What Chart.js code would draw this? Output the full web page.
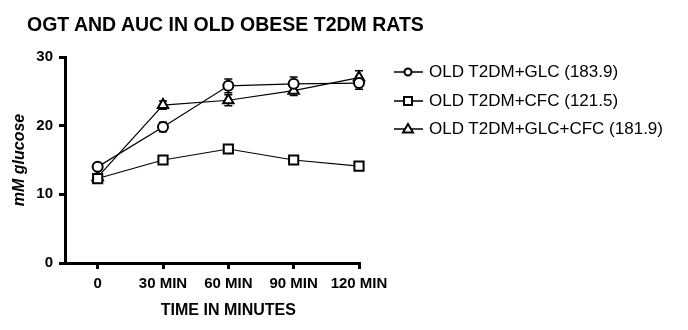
<!DOCTYPE html>
<html>
<head>
<meta charset="utf-8">
<script src="https://cdn.jsdelivr.net/npm/chart.js@4"></script>
<style>
    body { margin: 0; background: #fff; font-family: Arial, "Liberation Sans", sans-serif; }
    #wrap { position: relative; width: 688px; height: 330px; }
    #title { position: absolute; left: 27px; top: 13px; font-size: 19.5px; font-weight: bold; color: #000; white-space: nowrap; }
    #legend { position: absolute; left: 393px; top: 58px; }
    .row { display: flex; align-items: center; height: 28.5px; font-size: 17px; color: #000; white-space: nowrap; }
    .row svg { margin-right: 5px; }
</style>
</head>
<body>
<div id="wrap">
    <canvas id="chart" width="688" height="330"></canvas>
    <div id="title">OGT AND AUC IN OLD OBESE T2DM RATS</div>
    <div id="legend"></div>
</div>
<script>
// --- data ---
const times = [0, 30, 60, 90, 120];
const tickLabels = ['0', '30 MIN', '60 MIN', '90 MIN', '120 MIN'];
const yTicks = [0, 10, 20, 30];

const seriesNames = ['OLD T2DM+GLC (183.9)', 'OLD T2DM+CFC (121.5)', 'OLD T2DM+GLC+CFC (181.9)'];
const glc = [14.0, 19.8, 25.8, 26.1, 26.2];
const glcErr = [0.3, 0.7, 1.0, 1.0, 0.9];
const cfc = [12.3, 15.0, 16.6, 15.0, 14.1];
const cfcErr = [0.2, 0.3, 0.3, 0.3, 0.3];
const glcCfc = [12.5, 23.0, 23.7, 25.1, 27.0];
const glcCfcErr = [0.3, 0.6, 0.8, 0.7, 1.0];

const FONT = 'Arial, "Liberation Sans", sans-serif';

function toPoints(vals) {
    return times.map((t, i) => ({ x: t, y: vals[i] }));
}

function makeSet(label, vals, errs, style, radius) {
    return {
        label: label,
        data: toPoints(vals),
        errors: errs,
        borderColor: '#000',
        borderWidth: 1.2,
        pointStyle: style,
        pointRadius: radius,
        pointBorderWidth: 2,
        pointBackgroundColor: '#fff',
        pointBorderColor: '#000',
        fill: false,
        tension: 0,
        clip: false
    };
}

const datasets = [
    makeSet(seriesNames[0], glc, glcErr, 'circle', 5),
    makeSet(seriesNames[1], cfc, cfcErr, 'rect', 6.5),
    makeSet(seriesNames[2], glcCfc, glcCfcErr, 'triangle', 6)
];

// error bars + axis titles
const extras = {
    id: 'extras',
    beforeDatasetsDraw(chart) {
        const ctx = chart.ctx;
        const xs = chart.scales.x, ys = chart.scales.y;
        ctx.save();
        ctx.strokeStyle = '#000';
        ctx.lineWidth = 1.5;
        chart.data.datasets.forEach(ds => {
            ds.data.forEach((p, i) => {
                const e = ds.errors[i];
                const x = xs.getPixelForValue(p.x);
                const yt = ys.getPixelForValue(p.y + e);
                const yb = ys.getPixelForValue(p.y - e);
                ctx.beginPath();
                ctx.moveTo(x, yt); ctx.lineTo(x, yb);
                ctx.moveTo(x - 4, yt); ctx.lineTo(x + 4, yt);
                ctx.moveTo(x - 4, yb); ctx.lineTo(x + 4, yb);
                ctx.stroke();
            });
        });
        ctx.restore();
    },
    afterDraw(chart) {
        const ctx = chart.ctx;
        const xs = chart.scales.x, ys = chart.scales.y;
        ctx.save();
        ctx.fillStyle = '#000';
        ctx.textAlign = 'center';
        ctx.textBaseline = 'middle';
        ctx.font = 'bold 16px ' + FONT;
        ctx.fillText('TIME IN MINUTES', xs.getPixelForValue(60), 311);
        ctx.translate(20, (ys.top + ys.bottom) / 2);
        ctx.rotate(-Math.PI / 2);
        ctx.font = 'italic bold 16px ' + FONT;
        ctx.fillText('mM glucose', 0, 0);
        ctx.restore();
    }
};

new Chart(document.getElementById('chart'), {
    type: 'line',
    data: { datasets: datasets },
    plugins: [extras],
    options: {
        responsive: false,
        animation: false,
        layout: { padding: { left: 0, top: 57, right: 329, bottom: 0 } },
        plugins: { legend: { display: false }, tooltip: { enabled: false } },
        scales: {
            x: {
                type: 'linear',
                min: -15,
                max: 120,
                afterBuildTicks: s => { s.ticks = times.map(v => ({ value: v })); },
                afterFit: s => { s.height = 67; },
                ticks: {
                    autoSkip: false,
                    maxRotation: 0,
                    color: '#000',
                    padding: 6,
                    font: { family: FONT, size: 15, weight: 'bold' },
                    callback: v => tickLabels[times.indexOf(v)]
                },
                grid: { drawOnChartArea: false, drawTicks: true, tickLength: 6, lineWidth: 3, color: '#000' },
                border: { display: true, width: 3, color: '#000' }
            },
            y: {
                min: 0,
                max: 30,
                afterBuildTicks: s => { s.ticks = yTicks.map(v => ({ value: v })); },
                afterFit: s => { s.width = 65; },
                ticks: {
                    color: '#000',
                    padding: 6,
                    font: { family: FONT, size: 15, weight: 'bold' }
                },
                grid: { drawOnChartArea: false, drawTicks: true, tickLength: 6, lineWidth: 3, color: '#000' },
                border: { display: true, width: 3, color: '#000' }
            }
        }
    }
});

// legend with line + marker symbols
const legend = document.getElementById('legend');
const shapes = [
    '<circle cx="15" cy="9" r="3.5" fill="#fff" stroke="#000" stroke-width="2"/>',
    '<rect x="11" y="5" width="8" height="8" fill="#fff" stroke="#000" stroke-width="2"/>',
    '<polygon points="15,4 20,12.5 10,12.5" fill="#fff" stroke="#000" stroke-width="2"/>'
];
seriesNames.forEach((name, i) => {
    const row = document.createElement('div');
    row.className = 'row';
    row.innerHTML = '<svg width="31" height="18"><line x1="1" y1="9" x2="30" y2="9" stroke="#000" stroke-width="1.5"/>' +
        shapes[i] + '</svg><span>' + name + '</span>';
    legend.appendChild(row);
});
</script>
</body>
</html>
